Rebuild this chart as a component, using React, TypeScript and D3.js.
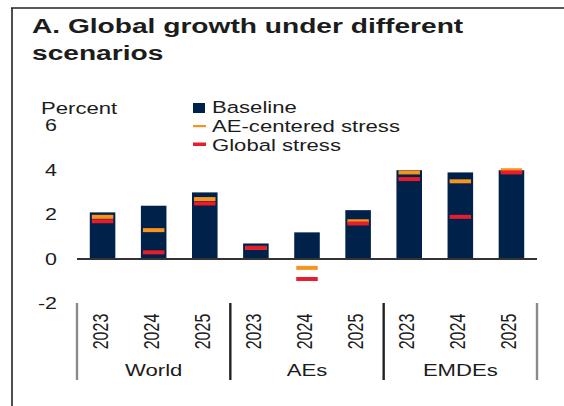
import * as d3 from "d3";
import React, { useEffect, useRef } from "react";

const groups = ["World", "AEs", "EMDEs"];
const years = ["2023", "2024", "2025"];
const baseline = [2.1, 2.4, 3.0, 0.7, 1.2, 2.2, 4.0, 3.9, 4.0];
const aeStress = [1.9, 1.3, 2.7, 0.5, -0.4, 1.7, 3.9, 3.5, 4.0];
const globalStress = [1.7, 0.3, 2.5, 0.5, -0.9, 1.6, 3.6, 1.9, 3.9];
const yTicks = [-2, 0, 2, 4, 6];
const legendItems = ["Baseline", "AE-centered stress", "Global stress"];

const NAVY = "#00214a";
const ORANGE = "#f7941d";
const RED = "#e61e2b";
const TEXT = "#1c1c1c";
const FONT = "'Liberation Sans', Arial, sans-serif";
const SX = 1.34; // the picture is stretched sideways

const App = () => {
  const svgRef = useRef<SVGSVGElement>(null);

  useEffect(() => {
    const width = 564,
      height = 406;
    const svg = d3.select(svgRef.current);
    svg.selectAll("*").remove();
    svg.attr("width", width).attr("height", height);

    const label = (
      parent: any,
      x: number,
      y: number,
      str: string,
      size: number,
      anchor = "start",
      weight = "normal",
      rotate = 0
    ) =>
      parent
        .append("text")
        .attr(
          "transform",
          `translate(${x},${y}) scale(${SX},1)` + (rotate ? ` rotate(${rotate})` : "")
        )
        .attr("text-anchor", anchor)
        .style("font-family", FONT)
        .style("font-size", size + "px")
        .style("font-weight", weight)
        .style("fill", TEXT)
        .text(str);

    // frame
    svg.append("line").attr("x1", 11).attr("x2", width).attr("y1", 8).attr("y2", 8)
      .attr("stroke", "#222").attr("stroke-width", 1.6);
    svg.append("line").attr("x1", 12).attr("x2", 12).attr("y1", 8).attr("y2", height)
      .attr("stroke", "#222").attr("stroke-width", 1.6);

    // title
    label(svg, 32, 33, "A. Global growth under different", 21, "start", "bold");
    label(svg, 32, 60, "scenarios", 21, "start", "bold");

    const keys = groups.flatMap((g) => years.map((yr) => g + yr));
    const x = d3.scaleBand().domain(keys).range([77, 537]).paddingInner(0.5).paddingOuter(0.25);
    const y = d3.scaleLinear().domain([-2, 6]).range([303.4, 125.8]);

    // y axis labels
    label(svg, 41, 113.5, "Percent", 16.5);
    yTicks.forEach((t) => {
      label(svg, 57, y(t) + 5.5, t < 0 ? "-" + Math.abs(t) : String(t), 16, "end");
    });

    // bars
    svg.append("g")
      .selectAll("rect")
      .data(baseline)
      .enter()
      .append("rect")
      .attr("x", (_, i) => x(keys[i])!)
      .attr("width", x.bandwidth())
      .attr("y", (d) => y(Math.max(0, d)))
      .attr("height", (d) => Math.abs(y(d) - y(0)))
      .attr("fill", NAVY);

    const mw = x.bandwidth() * 0.84;
    const markers = (vals: number[], color: string) =>
      svg.append("g")
        .selectAll("rect")
        .data(vals)
        .enter()
        .append("rect")
        .attr("x", (_, i) => x(keys[i])! + (x.bandwidth() - mw) / 2)
        .attr("width", mw)
        .attr("y", (d) => y(d) - 2)
        .attr("height", 4)
        .attr("fill", color);
    markers(aeStress, ORANGE);
    markers(globalStress, RED);

    // zero line
    svg.append("line")
      .attr("x1", 77).attr("x2", 537)
      .attr("y1", y(0)).attr("y2", y(0))
      .attr("stroke", "#333").attr("stroke-width", 1.8);

    // category axis
    const step = x.step();
    d3.range(groups.length + 1).forEach((i) => {
      const xx = 77 + i * step * 3;
      const edge = i === 0 || i === groups.length;
      svg.append("line")
        .attr("x1", xx).attr("x2", xx).attr("y1", 303).attr("y2", 380)
        .attr("stroke", edge ? "#8a8a8a" : "#222")
        .attr("stroke-width", 2.4);
    });
    keys.forEach((k, i) => {
      const cx = x(k)! + x.bandwidth() / 2 + 5;
      label(svg, cx, 331.5, years[i % 3], 16, "middle", "normal", -90);
    });
    groups.forEach((g, i) => {
      const cx = 77 + (i + 0.5) * step * 3;
      label(svg, cx, 376, g, 16.5, "middle");
    });

    // legend
    const lg = svg.append("g");
    lg.append("rect").attr("x", 193).attr("y", 103).attr("width", 12).attr("height", 10).attr("fill", NAVY);
    lg.append("rect").attr("x", 193).attr("y", 125).attr("width", 13).attr("height", 2.2).attr("fill", ORANGE);
    lg.append("rect").attr("x", 193).attr("y", 142.5).attr("width", 13).attr("height", 3.5).attr("fill", RED);
    legendItems.forEach((t, i) => {
      label(lg, 212, 113 + i * 19, t, 16.5);
    });
  }, []);

  return (
    <div style={{ position: "absolute", left: 0, top: 0, background: "#fff" }}>
      <svg ref={svgRef} style={{ display: "block" }}></svg>
    </div>
  );
};

export default App;
